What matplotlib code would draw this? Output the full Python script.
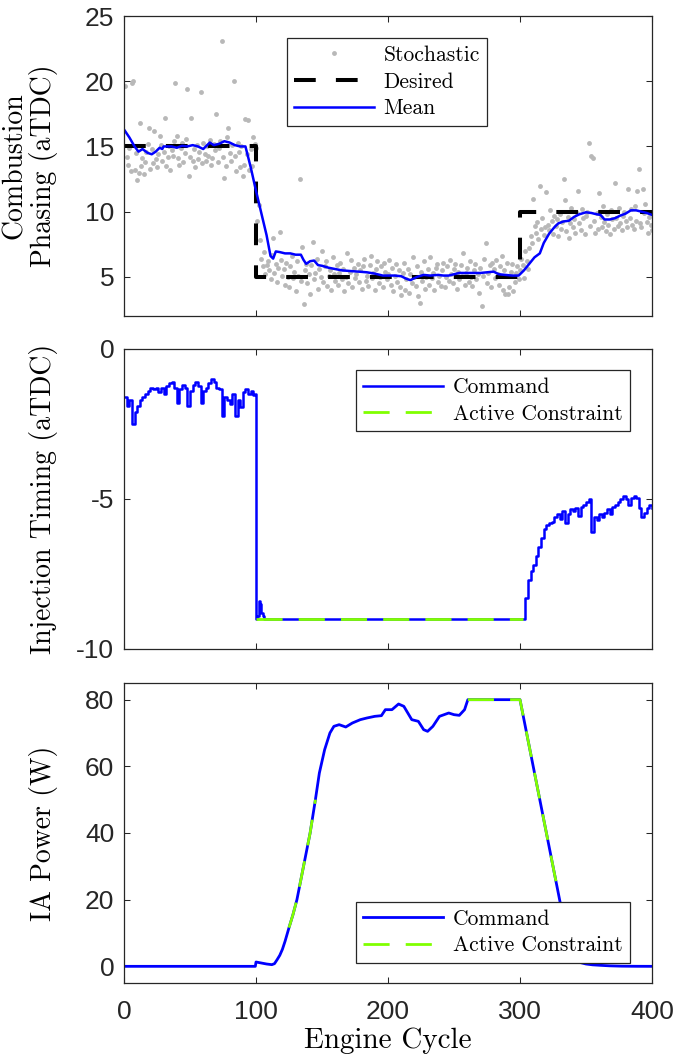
import numpy as np
import matplotlib
matplotlib.use("Agg")
from matplotlib import pyplot as plt

# ---- data ----
cycles = np.arange(1, 401)
stochastic = [
    19.6, 14.2, 13.6, 14.9, 13.1, 19.9, 20.0, 13.2, 14.5, 12.4, 13.0, 16.8, 13.5, 14.1, 12.9, 13.8, 14.6, 15.2, 16.4, 13.3,
    14.8, 13.7, 16.2, 14.0, 13.4, 14.4, 15.8, 15.1, 13.9, 14.6, 17.2, 13.5, 14.2, 15.0, 13.2, 14.7, 14.3, 15.4, 19.9, 15.8,
    14.1, 13.6, 14.9, 15.3, 13.8, 14.5, 15.6, 19.4, 12.7, 14.2, 17.2, 13.9, 14.8, 13.4, 15.1, 14.0, 14.6, 19.2, 13.7, 15.3,
    14.4, 13.9, 15.0, 14.3, 15.5, 13.6, 14.1, 15.2, 14.7, 17.5, 13.8, 14.9, 15.4, 23.1, 14.2, 12.6, 13.5, 15.7, 16.4, 14.5,
    13.9, 15.1, 20.0, 14.3, 13.1, 15.3, 14.6, 13.4, 15.0, 12.7, 13.6, 17.1, 14.4, 17.0, 13.2, 14.8, 13.5, 15.75, 15.2, 14.9,
    9.3, 10.5, 7.8, 6.4, 5.8, 6.9, 5.2, 5.9, 6.2, 5.5, 4.8, 6.7, 8.0, 5.3, 6.0, 4.6, 5.7, 8.46, 6.3, 5.1,
    5.6, 4.4, 6.1, 5.0, 4.2, 5.8, 6.6, 4.9, 5.4, 3.9, 6.2, 5.1, 12.5, 4.7, 7.3, 2.9, 5.5, 6.0, 4.5, 5.2,
    3.7, 5.9, 7.7, 4.8, 5.3, 6.4, 4.1, 5.6, 5.0, 7.0, 4.6, 5.8, 6.2, 4.3, 5.1, 5.5, 4.0, 6.5, 5.2, 4.7,
    5.9, 4.4, 5.3, 6.1, 4.8, 5.6, 3.9, 5.0, 6.85, 4.5, 5.4, 6.3, 4.2, 5.7, 4.9, 5.2, 6.0, 4.6, 5.5, 4.1,
    5.8, 6.4, 4.7, 5.1, 4.3, 5.9, 6.6, 4.9, 5.3, 4.0, 5.6, 6.2, 4.5, 5.0, 5.8, 4.2, 6.1, 5.4, 4.8, 5.2,
    6.3, 4.4, 5.7, 3.9, 5.1, 6.0, 4.6, 5.5, 4.2, 3.6, 5.3, 6.1, 4.0, 4.8, 5.6, 3.8, 5.2, 4.5, 6.5, 5.0,
    4.3, 5.8, 3.5, 3.0, 5.4, 4.7, 6.2, 4.1, 5.0, 5.6, 4.4, 6.5, 4.9, 5.3, 4.0, 5.7, 6.0, 4.6, 5.1, 4.3,
    5.5, 6.1, 4.2, 5.0, 5.8, 4.7, 6.3, 5.2, 4.5, 5.6, 6.0, 4.1, 5.4, 4.8, 5.9, 5.1, 6.8, 4.4, 5.3, 5.7,
    4.6, 6.2, 5.0, 4.3, 5.5, 6.0, 4.8, 5.2, 3.8, 5.7, 2.8, 5.1, 6.4, 7.6, 4.5, 5.3, 5.9, 4.2, 6.1, 5.6,
    4.9, 6.3, 5.2, 4.4, 5.8, 6.6, 4.0, 5.5, 3.7, 6.1, 3.7, 4.2, 5.4, 6.0, 3.9, 4.6, 5.3, 5.8, 4.8, 5.5,
    6.4, 5.9, 4.9, 7.0, 6.2, 5.6, 7.2, 8.1, 7.6, 11.0, 8.9, 8.4, 9.2, 7.9, 12.0, 8.7, 9.5, 8.2, 8.8, 11.5,
    9.0, 8.6, 10.1, 9.3, 8.3, 9.7, 8.9, 9.4, 8.1, 9.8, 8.7, 9.2, 12.5, 10.9, 8.5, 9.6, 8.0, 9.1, 10.3, 8.8,
    9.4, 8.4, 9.9, 11.6, 9.1, 8.6, 10.2, 9.5, 8.3, 9.7, 10.0, 15.3, 8.9, 14.3, 14.1, 9.3, 8.4, 9.9, 8.7, 11.4,
    9.6, 8.8, 10.4, 9.2, 8.5, 9.8, 9.0, 8.3, 10.1, 9.4, 8.7, 12.2, 9.5, 8.9, 10.3, 9.1, 8.6, 9.7, 10.0, 9.3,
    8.8, 11.7, 9.5, 10.2, 9.0, 8.7, 10.4, 9.3, 11.6, 13.3, 9.1, 8.8, 11.7, 9.9, 10.6, 9.2, 8.4, 9.6, 9.0, 8.6,
]

desired_x = [0, 100, 100, 300, 300, 400]
desired_y = [15, 15, 5, 5, 10, 10]

mean_x = [0, 4, 8, 11, 14, 18, 21, 24, 27, 29, 30, 36, 40, 44, 48, 52, 56, 60, 62, 65, 68, 72, 76, 80, 84,
          88, 92, 96, 100, 104, 108, 111, 113, 115, 118, 122, 126, 130, 134, 136, 138, 141, 144, 147, 150,
          155, 160, 165, 171, 178, 184, 190, 196, 200, 205, 210, 214, 217, 222, 227, 232, 238, 242, 246,
          250, 254, 260, 266, 270, 275, 280, 284, 289, 294, 299, 303, 307, 311, 315, 318, 322, 326, 329,
          333, 337, 341, 345, 350, 354, 358, 361, 364, 368, 372, 376, 380, 384, 388, 392, 396, 400]
mean_y = [16.3, 15.7, 15.0, 14.6, 14.8, 14.5, 14.4, 14.6, 14.9, 14.8, 15.0, 15.0, 14.9, 15.05, 15.0, 15.1,
          15.0, 14.8, 15.0, 15.3, 15.1, 15.2, 15.4, 15.3, 15.1, 15.0, 15.0, 13.4, 11.6, 9.9, 8.2, 6.6, 6.4,
          6.95, 6.9, 6.8, 6.8, 6.7, 6.7, 6.3, 6.0, 6.2, 6.25, 5.9, 5.85, 5.7, 5.6, 5.5, 5.45, 5.4, 5.35,
          5.25, 5.1, 5.1, 5.1, 5.05, 4.85, 4.75, 5.0, 5.15, 5.1, 5.15, 5.1, 5.1, 5.2, 5.3, 5.3, 5.3, 5.3,
          5.35, 5.4, 5.2, 5.15, 5.1, 5.1, 5.5, 6.0, 6.5, 6.8, 7.6, 8.3, 8.8, 9.1, 9.25, 9.3, 9.6, 9.8, 9.95,
          9.9, 9.8, 9.75, 9.4, 9.4, 9.5, 9.7, 9.85, 10.1, 10.1, 10.0, 9.9, 9.75]

inj_x = [0, 2, 4, 6, 8, 10, 12, 14, 16, 18, 20, 22, 24, 26, 28, 30, 32, 34, 36, 38, 40, 42, 44, 46, 48,
         50, 52, 54, 56, 58, 60, 62, 64, 66, 68, 70, 72, 74, 76, 78, 80, 82, 84, 86, 88, 90, 92, 94, 96,
         98, 99.5, 100, 101, 102, 103, 104, 105, 106, 110, 200, 302, 304, 306, 308, 310, 312, 314, 316,
         318, 320, 322, 324, 326, 328, 330, 332, 334, 336, 338, 340, 342, 344, 346, 348, 350, 352, 354,
         356, 358, 360, 362, 364, 366, 368, 370, 372, 374, 376, 378, 380, 382, 384, 386, 388, 390, 392,
         394, 396, 398, 400]
inj_y = [-1.6, -1.9, -1.7, -2.5, -2.1, -1.9, -1.7, -1.6, -1.5, -1.4, -1.3, -1.35, -1.3, -1.45, -1.3,
         -1.5, -1.25, -1.15, -1.1, -1.3, -1.8, -1.35, -1.2, -1.3, -1.9, -1.4, -1.2, -1.1, -1.25, -1.8,
         -1.4, -1.3, -1.15, -1.0, -1.1, -1.3, -1.35, -2.25, -1.6, -1.7, -1.85, -1.5, -2.25, -1.7, -1.95,
         -1.45, -1.35, -1.5, -1.4, -1.55, -1.5, -9.0, -8.9, -8.4, -8.5, -8.8, -8.9, -9.0, -9.0, -9.0,
         -9.0, -8.3, -7.7, -7.4, -7.2, -6.9, -6.6, -6.3, -6.0, -5.85, -5.8, -5.75, -5.6, -5.5, -5.65,
         -5.4, -5.8, -5.5, -5.35, -5.4, -5.3, -5.55, -5.25, -5.2, -5.1, -5.0, -6.1, -5.6, -5.7, -5.5,
         -5.6, -5.45, -5.35, -5.5, -5.25, -5.2, -5.1, -5.0, -4.9, -5.0, -5.2, -4.95, -4.9, -4.95, -5.3,
         -5.6, -5.45, -5.3, -5.2, -5.3]
inj_con_x = [100, 200, 302]
inj_con_y = [-9, -9, -9]

pow_x = [0, 50, 99.5, 100, 104, 108, 112, 114, 116, 118, 120, 122, 125, 128, 131, 136, 141, 145, 148,
         152, 156, 159, 163, 168, 173, 179, 184, 190, 195, 198, 203, 208, 212, 218, 223, 227, 230, 234,
         239, 246, 250, 254, 258, 260.5, 280, 300, 310, 320, 329, 335, 338, 340, 343, 346, 350, 355,
         361, 368, 377, 388, 400]
pow_y = [0, 0, 0, 1.3, 1.0, 0.7, 0.5, 0.8, 2.0, 3.3, 5.1, 7.5, 11.6, 15.5, 20, 30, 40, 50, 58, 65, 70,
         72, 72.5, 71.8, 73, 74, 74.5, 75, 75.2, 77, 77, 78.7, 78, 74, 73.5, 71, 70.5, 72, 75, 76, 75.5,
         75.3, 77, 80, 80, 80, 60, 40, 22, 10, 5, 2.8, 1.6, 1.1, 0.7, 0.45, 0.3, 0.15, 0.05, 0.01, 0]
pow_con_x = [125, 128, 131, 136, 141, 145, np.nan, 260.5, 280, 300, 310, 320, 329]
pow_con_y = [11.6, 15.5, 20, 30, 40, 50, np.nan, 80, 80, 80, 60, 40, 22]

# ---- styling ----
plt.rcParams['font.family'] = ['Liberation Sans', 'DejaVu Sans']
plt.rcParams['axes.unicode_minus'] = False
frame = (0.15, 0.15, 0.15)
serif = 'cmr10'
blue = (0, 0, 1)
green = (0.5, 1, 0)

fig = plt.figure(figsize=(6.74, 10.63), dpi=100)
W, H = 674, 1063
left, width = 124 / W, 528 / W
ax1 = fig.add_axes([left, 1 - 316 / H, width, 300 / H])
ax2 = fig.add_axes([left, 1 - 649 / H, width, 300 / H])
ax3 = fig.add_axes([left, 1 - 983 / H, width, 300 / H])

# top: combustion phasing
ax1.plot(cycles, stochastic, 'o', color=(0.72, 0.72, 0.72), markersize=3.5, markeredgewidth=0,
         label='Stochastic')
ax1.plot(desired_x, desired_y, color='k', lw=2.9, dashes=(5.4, 5.0), label='Desired')
ax1.plot(mean_x, mean_y, color=blue, lw=1.8, label='Mean')
ax1.set_ylim(2, 25)
ax1.set_yticks([5, 10, 15, 20, 25])
ax1.set_ylabel('Combustion\nPhasing (aTDC)', fontfamily=serif, fontsize=20, linespacing=1.05)

# middle: injection timing
ax2.plot(inj_x, inj_y, color=blue, lw=1.8, drawstyle='steps-post', label='Command')
ax2.plot(inj_con_x, inj_con_y, color=green, lw=2.0, dashes=(9.4, 5.8), label='Active Constraint')
ax2.set_ylim(-10, 0)
ax2.set_yticks([-10, -5, 0])
ax2.set_ylabel('Injection Timing (aTDC)', fontfamily=serif, fontsize=20)

# bottom: IA power
ax3.plot(pow_x, pow_y, color=blue, lw=2.0, label='Command')
ax3.plot(pow_con_x, pow_con_y, color=green, lw=2.0, dashes=(9.4, 5.8), label='Active Constraint')
ax3.set_ylim(-5, 85)
ax3.set_yticks([0, 20, 40, 60, 80])
ax3.set_ylabel('IA Power (W)', fontfamily=serif, fontsize=20)
ax3.set_xlabel('Engine Cycle', fontfamily=serif, fontsize=21, labelpad=3)

for ax in (ax1, ax2, ax3):
    ax.set_xlim(0, 400)
    ax.set_xticks([0, 100, 200, 300, 400])
    ax.tick_params(direction='in', top=True, right=True, length=4, width=0.75,
                   color=frame, labelcolor=frame, labelsize=19, pad=7)
    ax.tick_params(axis='x', pad=12)
    for s in ax.spines.values():
        s.set_color(frame)
        s.set_linewidth(0.9)
    ax.yaxis.set_label_coords(-0.125, 0.5)
for ax in (ax1, ax2):
    ax.tick_params(labelbottom=False)

leg_kw = dict(prop={'family': serif, 'size': 15.5}, frameon=True, fancybox=False,
              edgecolor=frame, framealpha=1, handlelength=3.7, handletextpad=0.45,
              labelspacing=0.33, borderpad=0.35, numpoints=1, borderaxespad=0)
l1 = ax1.legend(loc='upper center', bbox_to_anchor=(0.498, 0.927), **leg_kw)
l2 = ax2.legend(loc='upper right', bbox_to_anchor=(0.958, 0.93), **leg_kw)
l3 = ax3.legend(loc='lower right', bbox_to_anchor=(0.958, 0.067), **leg_kw)
for l in (l1, l2, l3):
    l.get_frame().set_linewidth(0.9)

fig.savefig('out.png', dpi=100)
